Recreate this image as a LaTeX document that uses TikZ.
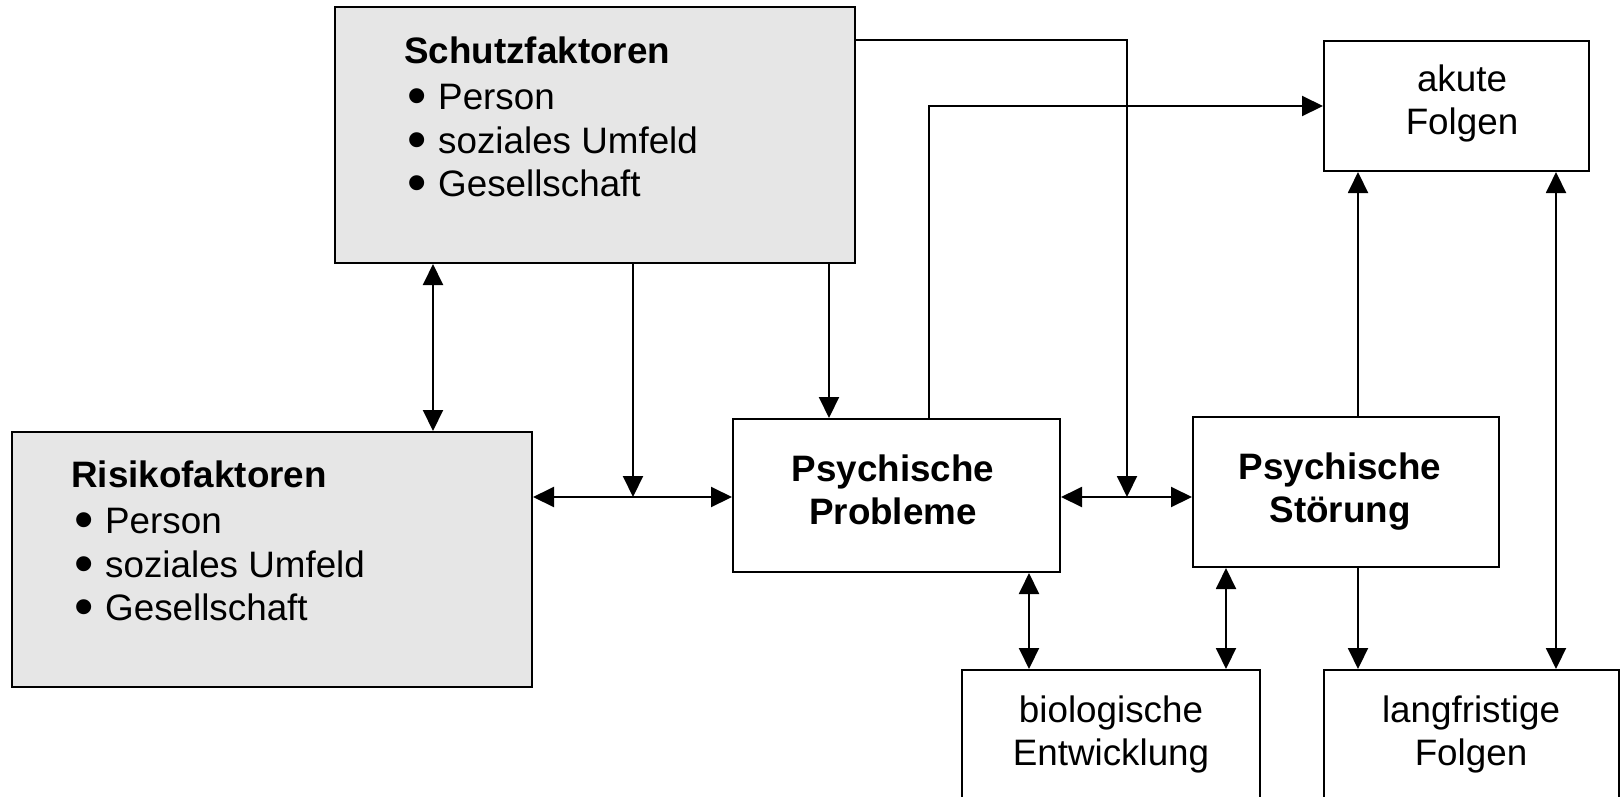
\documentclass[tikz,border=0pt]{standalone}
\usepackage{fontspec}
\setmainfont{Liberation Sans}
\usepackage{graphicx}
\usetikzlibrary{arrows.meta}
\definecolor{boxgray}{RGB}{230,230,230}
\newcommand\blt{\makebox[34pt][l]{\hspace{3pt}\raisebox{-5pt}{\scalebox{1.5}{•}}}}
\begin{document}
\begin{tikzpicture}[x=1pt,y=-1pt,
  box/.style={draw=black,line width=2pt,rectangle,inner sep=0pt},
  graybox/.style={box,fill=boxgray},
  txt/.style={inner sep=0pt,font=\fontsize{36.8}{43.5}\selectfont},
  arr/.style={line width=2pt,-{Triangle[length=21pt,width=20pt]}},
  dbl/.style={line width=2pt,{Triangle[length=21pt,width=20pt]}-{Triangle[length=21pt,width=20pt]}}]
\useasboundingbox (0,0) rectangle (1622,796);
\clip (0,0) rectangle (1622,796);
\fill[white] (0,0) rectangle (1622,796);
% boxes
\node[graybox,minimum width=520pt,minimum height=256pt] (schutz) at (595,135) {};
\node[graybox,minimum width=520pt,minimum height=255pt] (risiko) at (272,559.5) {};
\node[box,minimum width=327pt,minimum height=153pt] (prob) at (896.5,495.5) {};
\node[box,minimum width=306pt,minimum height=150pt] (stoer) at (1346,492) {};
\node[box,minimum width=265pt,minimum height=130pt] (akute) at (1456.5,106) {};
\node[box,minimum width=298pt,minimum height=160pt] (bio) at (1111,750) {};
\node[box,minimum width=295pt,minimum height=160pt] (lang) at (1471.5,750) {};
% texts
\node[txt,anchor=base west] (schutzT) at (404,63) {\begin{tabular}[t]{@{}l@{}}\textbf{Schutzfaktoren}\\[3pt]\blt Person\\\blt soziales Umfeld\\\blt Gesellschaft\end{tabular}};
\node[txt,anchor=base west] (risikoT) at (71,487) {\begin{tabular}[t]{@{}l@{}}\textbf{Risikofaktoren}\\[3pt]\blt Person\\\blt soziales Umfeld\\\blt Gesellschaft\end{tabular}};
\node[txt,anchor=base,font=\fontsize{36.8}{43.5}\selectfont\bfseries] (probT) at (893,481) {\begin{tabular}[t]{@{}c@{}}Psychische\\Probleme\end{tabular}};
\node[txt,anchor=base,font=\fontsize{36.8}{43.5}\selectfont\bfseries] (stoerT) at (1340,479) {\begin{tabular}[t]{@{}c@{}}Psychische\\Störung\end{tabular}};
\node[txt,anchor=base] (akuteT) at (1462,91) {\begin{tabular}[t]{@{}c@{}}akute\\Folgen\end{tabular}};
\node[txt,anchor=base] (bioT) at (1111,722) {\begin{tabular}[t]{@{}c@{}}biologische\\Entwicklung\end{tabular}};
\node[txt,anchor=base] (langT) at (1471,722) {\begin{tabular}[t]{@{}c@{}}langfristige\\Folgen\end{tabular}};
% helper coordinates
\coordinate (c433) at (433,0);
\coordinate (c829) at (829,0);
\coordinate (c929) at (929,0);
\coordinate (c1029) at (1029,0);
\coordinate (c1226) at (1226,0);
\coordinate (c1358) at (1358,0);
\coordinate (c1556) at (1556,0);
\coordinate (y40) at (0,40);
\coordinate (y106) at (0,106);
\coordinate (j1) at (633,497);
\coordinate (j2) at (1127,497);
% connectors
\draw[dbl] (schutz.south -| c433) -- (risiko.north -| c433);
\draw[dbl] (risiko.east |- j1) -- (prob.west |- j1);
\draw[arr] (schutz.south -| j1) -- (j1);
\draw[arr] (schutz.south -| c829) -- (prob.north -| c829);
\draw[arr] (prob.north -| c929) |- (akute.west |- y106);
\draw[arr] (schutz.east |- y40) -| (j2);
\draw[dbl] (prob.east |- j2) -- (stoer.west |- j2);
\draw[dbl] (prob.south -| c1029) -- (bio.north -| c1029);
\draw[dbl] (stoer.south -| c1226) -- (bio.north -| c1226);
\draw[arr] (stoer.south -| c1358) -- (lang.north -| c1358);
\draw[arr] (stoer.north -| c1358) -- (akute.south -| c1358);
\draw[dbl] (akute.south -| c1556) -- (lang.north -| c1556);
\end{tikzpicture}
\end{document}
